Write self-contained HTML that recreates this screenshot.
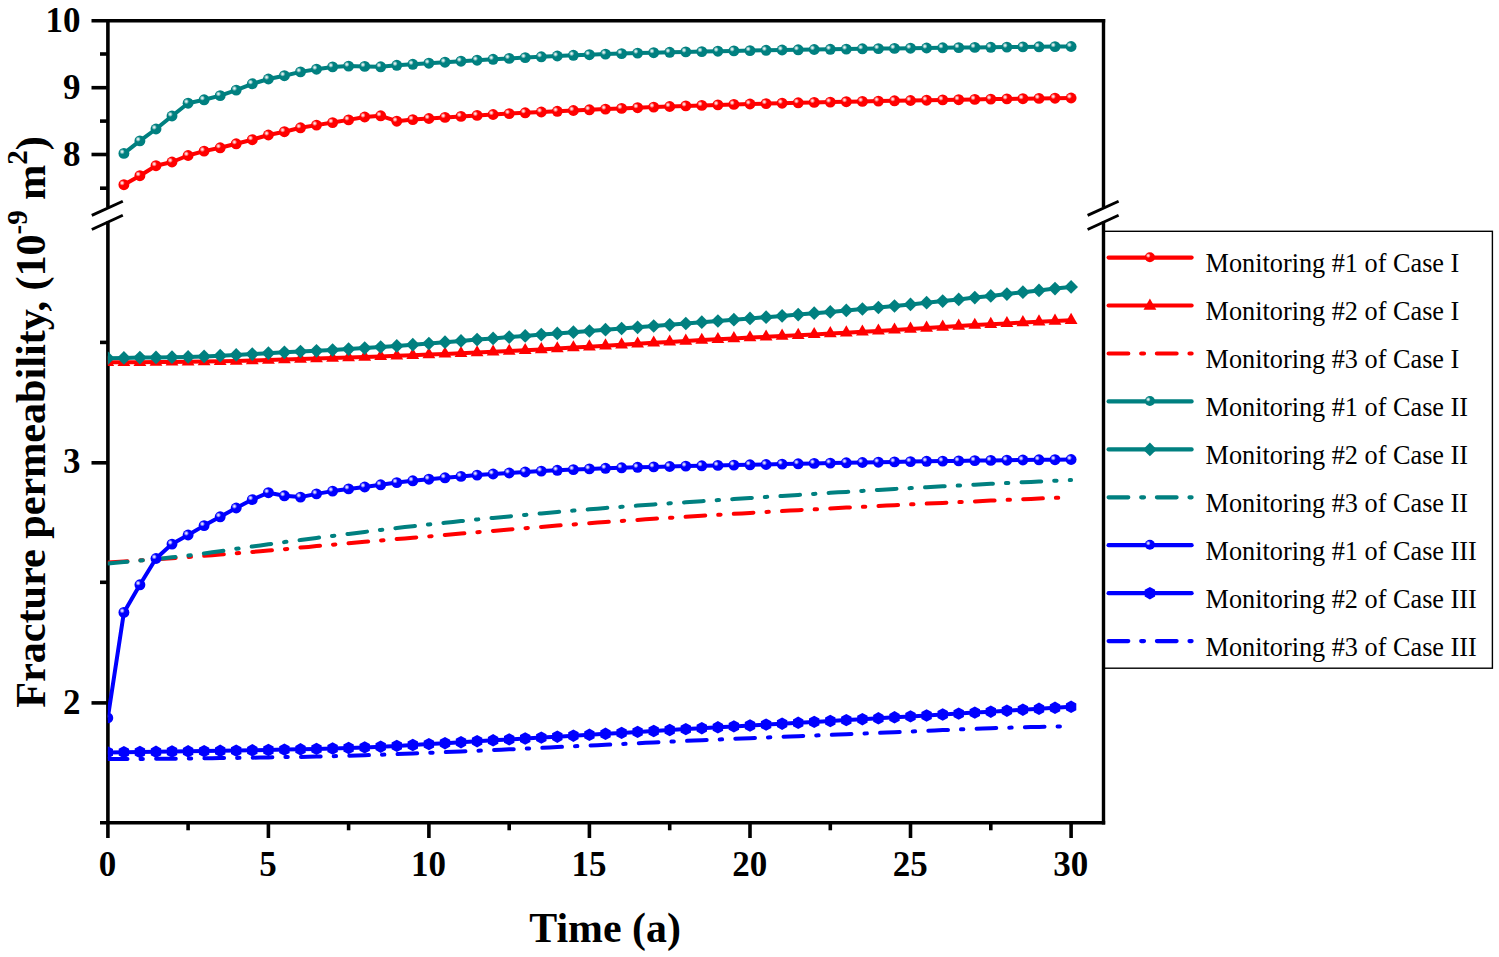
<!DOCTYPE html>
<html><head><meta charset="utf-8"><title>Fracture permeability</title>
<style>html,body{margin:0;padding:0;background:#fff}svg{display:block}text{font-family:"Liberation Serif",serif;fill:#000}.tk{font-size:35px;font-weight:bold}.ax{font-size:42.4px;font-weight:bold}.lg{font-size:26.25px}</style>
</head><body>
<svg width="1499" height="957" viewBox="0 0 1499 957">
<defs>
<radialGradient id="hl" cx="0.5" cy="0.5" r="0.5"><stop offset="0" stop-color="#fff" stop-opacity="0.95"/><stop offset="0.3" stop-color="#fff" stop-opacity="0.8"/><stop offset="1" stop-color="#fff" stop-opacity="0"/></radialGradient>
<g id="ball"><circle r="5.45"/><circle cx="-1.8" cy="-1.7" r="2.7" fill="url(#hl)"/></g>
<path id="dia" d="M0,-6.85 L6.9,0 L0,6.85 L-6.9,0Z"/>
<path id="tri" d="M0,-7.4 L6.4,3.7 L-6.4,3.7Z"/>
<path id="hex" d="M0,-6.2 L5.2,-3.4 L5.2,3.4 L0,6.2 L-5.2,3.4 L-5.2,-3.4Z"/>
<clipPath id="cp"><rect x="107.8" y="19" width="996" height="805"/></clipPath>
</defs>
<rect width="1499" height="957" fill="#fff"/>
<g stroke="#000" stroke-width="3.6" fill="none" stroke-linecap="butt">
<line x1="91.5" y1="20.8" x2="1105.2" y2="20.8"/>
<line x1="100" y1="822.7" x2="1105.2" y2="822.7"/>
<line x1="107.9" y1="19" x2="107.9" y2="207"/>
<line x1="107.9" y1="221.6" x2="107.9" y2="838"/>
<line x1="1103.5" y1="19" x2="1103.5" y2="207.3" stroke-width="3.4"/>
<line x1="1103.5" y1="221.4" x2="1103.5" y2="824.5" stroke-width="3.4"/>
<line x1="91.5" y1="87.7" x2="107" y2="87.7"/>
<line x1="91.5" y1="154.5" x2="107" y2="154.5"/>
<line x1="91.5" y1="462.8" x2="107" y2="462.8"/>
<line x1="91.5" y1="702.9" x2="107" y2="702.9"/>
<line x1="100" y1="54" x2="107" y2="54"/>
<line x1="100" y1="121.1" x2="107" y2="121.1"/>
<line x1="100" y1="188.2" x2="107" y2="188.2"/>
<line x1="100" y1="342.4" x2="107" y2="342.4"/>
<line x1="100" y1="582.3" x2="107" y2="582.3"/>
<line x1="268.4" y1="822" x2="268.4" y2="838"/>
<line x1="428.9" y1="822" x2="428.9" y2="838"/>
<line x1="589.4" y1="822" x2="589.4" y2="838"/>
<line x1="750" y1="822" x2="750" y2="838"/>
<line x1="910.5" y1="822" x2="910.5" y2="838"/>
<line x1="1071.1" y1="822" x2="1071.1" y2="838"/>
<line x1="188.1" y1="822" x2="188.1" y2="830.3"/>
<line x1="348.6" y1="822" x2="348.6" y2="830.3"/>
<line x1="509.2" y1="822" x2="509.2" y2="830.3"/>
<line x1="669.7" y1="822" x2="669.7" y2="830.3"/>
<line x1="830.3" y1="822" x2="830.3" y2="830.3"/>
<line x1="990.8" y1="822" x2="990.8" y2="830.3"/>
</g>
<g stroke="#000" stroke-width="2.9" stroke-linecap="butt">
<line x1="91.8" y1="215.4" x2="122.8" y2="201.2"/>
<line x1="91.8" y1="229.5" x2="122.8" y2="215.3"/>
<line x1="1087.6" y1="215.4" x2="1118.6" y2="201.2"/>
<line x1="1087.6" y1="229.5" x2="1118.6" y2="215.3"/>
</g>
<g clip-path="url(#cp)" fill="none" stroke-linejoin="round" stroke-linecap="round">
<polyline points="123.9,184.7 139.9,175.7 156,165.7 172,162 188.1,155.5 204.1,151.1 220.2,147.8 236.2,143.8 252.3,139.7 268.4,135 284.4,131.7 300.5,127.8 316.5,125.1 332.6,122.6 348.6,119.9 364.7,117 380.7,115.8 396.8,121.2 412.8,119.6 428.9,118.5 445,117.4 461,116.4 477.1,115.4 493.1,114.5 509.2,113.6 525.2,112.8 541.3,112 557.3,111.3 573.4,110.5 589.4,109.8 605.5,109.1 621.6,108.4 637.6,107.7 653.7,107.1 669.7,106.5 685.8,105.9 701.8,105.4 717.9,104.9 733.9,104.4 750,104 766.1,103.6 782.1,103.2 798.2,102.8 814.2,102.4 830.3,102.1 846.3,101.7 862.4,101.4 878.4,101.1 894.5,100.8 910.5,100.5 926.6,100.2 942.7,99.9 958.7,99.7 974.8,99.4 990.8,99.1 1006.9,98.9 1022.9,98.7 1039,98.4 1055,98.2 1071.1,98" stroke="#ff0000" stroke-width="4.0"/>
<g fill="#ff0000" stroke="none">
<use href="#ball" x="123.9" y="184.7"/><use href="#ball" x="139.9" y="175.7"/><use href="#ball" x="156" y="165.7"/><use href="#ball" x="172" y="162"/><use href="#ball" x="188.1" y="155.5"/><use href="#ball" x="204.1" y="151.1"/><use href="#ball" x="220.2" y="147.8"/><use href="#ball" x="236.2" y="143.8"/><use href="#ball" x="252.3" y="139.7"/><use href="#ball" x="268.4" y="135"/><use href="#ball" x="284.4" y="131.7"/><use href="#ball" x="300.5" y="127.8"/><use href="#ball" x="316.5" y="125.1"/><use href="#ball" x="332.6" y="122.6"/><use href="#ball" x="348.6" y="119.9"/><use href="#ball" x="364.7" y="117"/><use href="#ball" x="380.7" y="115.8"/><use href="#ball" x="396.8" y="121.2"/><use href="#ball" x="412.8" y="119.6"/><use href="#ball" x="428.9" y="118.5"/><use href="#ball" x="445" y="117.4"/><use href="#ball" x="461" y="116.4"/><use href="#ball" x="477.1" y="115.4"/><use href="#ball" x="493.1" y="114.5"/><use href="#ball" x="509.2" y="113.6"/><use href="#ball" x="525.2" y="112.8"/><use href="#ball" x="541.3" y="112"/><use href="#ball" x="557.3" y="111.3"/><use href="#ball" x="573.4" y="110.5"/><use href="#ball" x="589.4" y="109.8"/><use href="#ball" x="605.5" y="109.1"/><use href="#ball" x="621.6" y="108.4"/><use href="#ball" x="637.6" y="107.7"/><use href="#ball" x="653.7" y="107.1"/><use href="#ball" x="669.7" y="106.5"/><use href="#ball" x="685.8" y="105.9"/><use href="#ball" x="701.8" y="105.4"/><use href="#ball" x="717.9" y="104.9"/><use href="#ball" x="733.9" y="104.4"/><use href="#ball" x="750" y="104"/><use href="#ball" x="766.1" y="103.6"/><use href="#ball" x="782.1" y="103.2"/><use href="#ball" x="798.2" y="102.8"/><use href="#ball" x="814.2" y="102.4"/><use href="#ball" x="830.3" y="102.1"/><use href="#ball" x="846.3" y="101.7"/><use href="#ball" x="862.4" y="101.4"/><use href="#ball" x="878.4" y="101.1"/><use href="#ball" x="894.5" y="100.8"/><use href="#ball" x="910.5" y="100.5"/><use href="#ball" x="926.6" y="100.2"/><use href="#ball" x="942.7" y="99.9"/><use href="#ball" x="958.7" y="99.7"/><use href="#ball" x="974.8" y="99.4"/><use href="#ball" x="990.8" y="99.1"/><use href="#ball" x="1006.9" y="98.9"/><use href="#ball" x="1022.9" y="98.7"/><use href="#ball" x="1039" y="98.4"/><use href="#ball" x="1055" y="98.2"/><use href="#ball" x="1071.1" y="98"/>
</g>
<polyline points="107.8,362.3 123.9,362.3 139.9,362.2 156,362.1 172,361.9 188.1,361.8 204.1,361.6 220.2,361.3 236.2,361 252.3,360.5 268.4,360.1 284.4,359.6 300.5,359.1 316.5,358.6 332.6,358.1 348.6,357.6 364.7,357 380.7,356.4 396.8,355.8 412.8,355.2 428.9,354.6 445,353.9 461,353.3 477.1,352.6 493.1,351.8 509.2,351.1 525.2,350.3 541.3,349.5 557.3,348.6 573.4,347.6 589.4,346.7 605.5,345.7 621.6,344.7 637.6,343.8 653.7,342.8 669.7,341.9 685.8,341 701.8,340.1 717.9,339.3 733.9,338.5 750,337.6 766.1,336.8 782.1,336 798.2,335.2 814.2,334.4 830.3,333.5 846.3,332.7 862.4,331.8 878.4,330.9 894.5,329.9 910.5,329 926.6,328 942.7,327 958.7,326 974.8,325.1 990.8,324.2 1006.9,323.4 1022.9,322.5 1039,321.7 1055,321 1071.1,320.2" stroke="#ff0000" stroke-width="4.0"/>
<g fill="#ff0000" stroke="none">
<use href="#tri" x="107.8" y="362.3"/><use href="#tri" x="123.9" y="362.3"/><use href="#tri" x="139.9" y="362.2"/><use href="#tri" x="156" y="362.1"/><use href="#tri" x="172" y="361.9"/><use href="#tri" x="188.1" y="361.8"/><use href="#tri" x="204.1" y="361.6"/><use href="#tri" x="220.2" y="361.3"/><use href="#tri" x="236.2" y="361"/><use href="#tri" x="252.3" y="360.5"/><use href="#tri" x="268.4" y="360.1"/><use href="#tri" x="284.4" y="359.6"/><use href="#tri" x="300.5" y="359.1"/><use href="#tri" x="316.5" y="358.6"/><use href="#tri" x="332.6" y="358.1"/><use href="#tri" x="348.6" y="357.6"/><use href="#tri" x="364.7" y="357"/><use href="#tri" x="380.7" y="356.4"/><use href="#tri" x="396.8" y="355.8"/><use href="#tri" x="412.8" y="355.2"/><use href="#tri" x="428.9" y="354.6"/><use href="#tri" x="445" y="353.9"/><use href="#tri" x="461" y="353.3"/><use href="#tri" x="477.1" y="352.6"/><use href="#tri" x="493.1" y="351.8"/><use href="#tri" x="509.2" y="351.1"/><use href="#tri" x="525.2" y="350.3"/><use href="#tri" x="541.3" y="349.5"/><use href="#tri" x="557.3" y="348.6"/><use href="#tri" x="573.4" y="347.6"/><use href="#tri" x="589.4" y="346.7"/><use href="#tri" x="605.5" y="345.7"/><use href="#tri" x="621.6" y="344.7"/><use href="#tri" x="637.6" y="343.8"/><use href="#tri" x="653.7" y="342.8"/><use href="#tri" x="669.7" y="341.9"/><use href="#tri" x="685.8" y="341"/><use href="#tri" x="701.8" y="340.1"/><use href="#tri" x="717.9" y="339.3"/><use href="#tri" x="733.9" y="338.5"/><use href="#tri" x="750" y="337.6"/><use href="#tri" x="766.1" y="336.8"/><use href="#tri" x="782.1" y="336"/><use href="#tri" x="798.2" y="335.2"/><use href="#tri" x="814.2" y="334.4"/><use href="#tri" x="830.3" y="333.5"/><use href="#tri" x="846.3" y="332.7"/><use href="#tri" x="862.4" y="331.8"/><use href="#tri" x="878.4" y="330.9"/><use href="#tri" x="894.5" y="329.9"/><use href="#tri" x="910.5" y="329"/><use href="#tri" x="926.6" y="328"/><use href="#tri" x="942.7" y="327"/><use href="#tri" x="958.7" y="326"/><use href="#tri" x="974.8" y="325.1"/><use href="#tri" x="990.8" y="324.2"/><use href="#tri" x="1006.9" y="323.4"/><use href="#tri" x="1022.9" y="322.5"/><use href="#tri" x="1039" y="321.7"/><use href="#tri" x="1055" y="321"/><use href="#tri" x="1071.1" y="320.2"/>
</g>
<polyline points="107.8,562.5 115.8,562 123.9,561.5 131.9,560.9 139.9,560.4 147.9,559.8 156,559.3 164,558.7 172,558.2 180,557.6 188.1,557 196.1,556.4 204.1,555.8 212.2,555.2 220.2,554.6 228.2,553.9 236.2,553.3 244.3,552.6 252.3,552 260.3,551.3 268.4,550.6 276.4,549.9 284.4,549.2 292.4,548.4 300.5,547.6 308.5,546.9 316.5,546.1 324.5,545.4 332.6,544.7 340.6,543.9 348.6,543.2 356.7,542.5 364.7,541.8 372.7,541.1 380.7,540.5 388.8,539.8 396.8,539.1 404.8,538.4 412.8,537.7 420.9,537 428.9,536.4 436.9,535.7 445,535 453,534.3 461,533.6 469,532.9 477.1,532.2 485.1,531.6 493.1,530.9 501.1,530.2 509.2,529.5 517.2,528.8 525.2,528.2 533.3,527.5 541.3,526.9 549.3,526.2 557.3,525.6 565.4,525 573.4,524.4 581.4,523.8 589.4,523.2 597.5,522.6 605.5,522.1 613.5,521.5 621.6,520.9 629.6,520.4 637.6,519.9 645.6,519.3 653.7,518.8 661.7,518.3 669.7,517.8 677.8,517.3 685.8,516.8 693.8,516.3 701.8,515.8 709.9,515.3 717.9,514.8 725.9,514.3 733.9,513.8 742,513.4 750,512.9 758,512.4 766.1,512 774.1,511.5 782.1,511.1 790.1,510.6 798.2,510.2 806.2,509.7 814.2,509.3 822.2,508.9 830.3,508.5 838.3,508 846.3,507.6 854.4,507.2 862.4,506.8 870.4,506.4 878.4,506 886.5,505.6 894.5,505.2 902.5,504.8 910.5,504.4 918.6,504 926.6,503.6 934.6,503.2 942.7,502.9 950.7,502.5 958.7,502.1 966.7,501.7 974.8,501.4 982.8,501 990.8,500.6 998.9,500.3 1006.9,499.9 1014.9,499.6 1022.9,499.2 1031,498.9 1039,498.5 1047,498.2 1055,497.9 1063.1,497.5 1071.1,497.2" stroke="#ff0000" stroke-width="4.0" stroke-dasharray="19.7 13.0 2.4 13.2"/>
<polyline points="123.9,153.4 139.9,140.9 156,129 172,116 188.1,103.2 204.1,99.8 220.2,95.6 236.2,90.1 252.3,83.8 268.4,79 284.4,75.7 300.5,71.9 316.5,69.2 332.6,66.9 348.6,66.1 364.7,66.4 380.7,66.8 396.8,65.3 412.8,64.3 428.9,63.2 445,62.2 461,61.2 477.1,60.2 493.1,59.3 509.2,58.4 525.2,57.6 541.3,56.8 557.3,56 573.4,55.3 589.4,54.7 605.5,54.1 621.6,53.6 637.6,53.1 653.7,52.7 669.7,52.3 685.8,51.9 701.8,51.6 717.9,51.2 733.9,50.9 750,50.6 766.1,50.3 782.1,50 798.2,49.8 814.2,49.5 830.3,49.3 846.3,49.1 862.4,48.8 878.4,48.6 894.5,48.4 910.5,48.2 926.6,48 942.7,47.8 958.7,47.6 974.8,47.4 990.8,47.3 1006.9,47.1 1022.9,46.9 1039,46.8 1055,46.6 1071.1,46.5" stroke="#008080" stroke-width="4.0"/>
<g fill="#008080" stroke="none">
<use href="#ball" x="123.9" y="153.4"/><use href="#ball" x="139.9" y="140.9"/><use href="#ball" x="156" y="129"/><use href="#ball" x="172" y="116"/><use href="#ball" x="188.1" y="103.2"/><use href="#ball" x="204.1" y="99.8"/><use href="#ball" x="220.2" y="95.6"/><use href="#ball" x="236.2" y="90.1"/><use href="#ball" x="252.3" y="83.8"/><use href="#ball" x="268.4" y="79"/><use href="#ball" x="284.4" y="75.7"/><use href="#ball" x="300.5" y="71.9"/><use href="#ball" x="316.5" y="69.2"/><use href="#ball" x="332.6" y="66.9"/><use href="#ball" x="348.6" y="66.1"/><use href="#ball" x="364.7" y="66.4"/><use href="#ball" x="380.7" y="66.8"/><use href="#ball" x="396.8" y="65.3"/><use href="#ball" x="412.8" y="64.3"/><use href="#ball" x="428.9" y="63.2"/><use href="#ball" x="445" y="62.2"/><use href="#ball" x="461" y="61.2"/><use href="#ball" x="477.1" y="60.2"/><use href="#ball" x="493.1" y="59.3"/><use href="#ball" x="509.2" y="58.4"/><use href="#ball" x="525.2" y="57.6"/><use href="#ball" x="541.3" y="56.8"/><use href="#ball" x="557.3" y="56"/><use href="#ball" x="573.4" y="55.3"/><use href="#ball" x="589.4" y="54.7"/><use href="#ball" x="605.5" y="54.1"/><use href="#ball" x="621.6" y="53.6"/><use href="#ball" x="637.6" y="53.1"/><use href="#ball" x="653.7" y="52.7"/><use href="#ball" x="669.7" y="52.3"/><use href="#ball" x="685.8" y="51.9"/><use href="#ball" x="701.8" y="51.6"/><use href="#ball" x="717.9" y="51.2"/><use href="#ball" x="733.9" y="50.9"/><use href="#ball" x="750" y="50.6"/><use href="#ball" x="766.1" y="50.3"/><use href="#ball" x="782.1" y="50"/><use href="#ball" x="798.2" y="49.8"/><use href="#ball" x="814.2" y="49.5"/><use href="#ball" x="830.3" y="49.3"/><use href="#ball" x="846.3" y="49.1"/><use href="#ball" x="862.4" y="48.8"/><use href="#ball" x="878.4" y="48.6"/><use href="#ball" x="894.5" y="48.4"/><use href="#ball" x="910.5" y="48.2"/><use href="#ball" x="926.6" y="48"/><use href="#ball" x="942.7" y="47.8"/><use href="#ball" x="958.7" y="47.6"/><use href="#ball" x="974.8" y="47.4"/><use href="#ball" x="990.8" y="47.3"/><use href="#ball" x="1006.9" y="47.1"/><use href="#ball" x="1022.9" y="46.9"/><use href="#ball" x="1039" y="46.8"/><use href="#ball" x="1055" y="46.6"/><use href="#ball" x="1071.1" y="46.5"/>
</g>
<polyline points="107.8,358.2 123.9,357.9 139.9,357.6 156,357.4 172,357.2 188.1,356.9 204.1,356.4 220.2,355.7 236.2,354.9 252.3,354.1 268.4,353.2 284.4,352.3 300.5,351.5 316.5,350.8 332.6,350 348.6,349.1 364.7,348.1 380.7,347 396.8,345.9 412.8,344.7 428.9,343.5 445,342.2 461,340.9 477.1,339.6 493.1,338.4 509.2,337.1 525.2,335.9 541.3,334.6 557.3,333.4 573.4,332.2 589.4,331 605.5,329.7 621.6,328.5 637.6,327.3 653.7,326 669.7,324.8 685.8,323.5 701.8,322.2 717.9,321 733.9,319.7 750,318.4 766.1,317.2 782.1,315.9 798.2,314.6 814.2,313.2 830.3,311.9 846.3,310.4 862.4,309 878.4,307.5 894.5,306 910.5,304.4 926.6,302.7 942.7,301.1 958.7,299.4 974.8,297.6 990.8,295.9 1006.9,294.1 1022.9,292.2 1039,290.4 1055,288.6 1071.1,286.9" stroke="#008080" stroke-width="4.0"/>
<g fill="#008080" stroke="none">
<use href="#dia" x="107.8" y="358.2"/><use href="#dia" x="123.9" y="357.9"/><use href="#dia" x="139.9" y="357.6"/><use href="#dia" x="156" y="357.4"/><use href="#dia" x="172" y="357.2"/><use href="#dia" x="188.1" y="356.9"/><use href="#dia" x="204.1" y="356.4"/><use href="#dia" x="220.2" y="355.7"/><use href="#dia" x="236.2" y="354.9"/><use href="#dia" x="252.3" y="354.1"/><use href="#dia" x="268.4" y="353.2"/><use href="#dia" x="284.4" y="352.3"/><use href="#dia" x="300.5" y="351.5"/><use href="#dia" x="316.5" y="350.8"/><use href="#dia" x="332.6" y="350"/><use href="#dia" x="348.6" y="349.1"/><use href="#dia" x="364.7" y="348.1"/><use href="#dia" x="380.7" y="347"/><use href="#dia" x="396.8" y="345.9"/><use href="#dia" x="412.8" y="344.7"/><use href="#dia" x="428.9" y="343.5"/><use href="#dia" x="445" y="342.2"/><use href="#dia" x="461" y="340.9"/><use href="#dia" x="477.1" y="339.6"/><use href="#dia" x="493.1" y="338.4"/><use href="#dia" x="509.2" y="337.1"/><use href="#dia" x="525.2" y="335.9"/><use href="#dia" x="541.3" y="334.6"/><use href="#dia" x="557.3" y="333.4"/><use href="#dia" x="573.4" y="332.2"/><use href="#dia" x="589.4" y="331"/><use href="#dia" x="605.5" y="329.7"/><use href="#dia" x="621.6" y="328.5"/><use href="#dia" x="637.6" y="327.3"/><use href="#dia" x="653.7" y="326"/><use href="#dia" x="669.7" y="324.8"/><use href="#dia" x="685.8" y="323.5"/><use href="#dia" x="701.8" y="322.2"/><use href="#dia" x="717.9" y="321"/><use href="#dia" x="733.9" y="319.7"/><use href="#dia" x="750" y="318.4"/><use href="#dia" x="766.1" y="317.2"/><use href="#dia" x="782.1" y="315.9"/><use href="#dia" x="798.2" y="314.6"/><use href="#dia" x="814.2" y="313.2"/><use href="#dia" x="830.3" y="311.9"/><use href="#dia" x="846.3" y="310.4"/><use href="#dia" x="862.4" y="309"/><use href="#dia" x="878.4" y="307.5"/><use href="#dia" x="894.5" y="306"/><use href="#dia" x="910.5" y="304.4"/><use href="#dia" x="926.6" y="302.7"/><use href="#dia" x="942.7" y="301.1"/><use href="#dia" x="958.7" y="299.4"/><use href="#dia" x="974.8" y="297.6"/><use href="#dia" x="990.8" y="295.9"/><use href="#dia" x="1006.9" y="294.1"/><use href="#dia" x="1022.9" y="292.2"/><use href="#dia" x="1039" y="290.4"/><use href="#dia" x="1055" y="288.6"/><use href="#dia" x="1071.1" y="286.9"/>
</g>
<polyline points="107.8,563.5 115.8,562.8 123.9,562.1 131.9,561.4 139.9,560.6 147.9,559.8 156,559 164,558.2 172,557.3 180,556.4 188.1,555.5 196.1,554.5 204.1,553.4 212.2,552.3 220.2,551.2 228.2,550 236.2,548.8 244.3,547.7 252.3,546.5 260.3,545.4 268.4,544.3 276.4,543.2 284.4,542.1 292.4,541.1 300.5,540 308.5,539 316.5,537.9 324.5,536.9 332.6,535.9 340.6,534.9 348.6,533.9 356.7,532.9 364.7,531.9 372.7,530.9 380.7,529.9 388.8,529 396.8,528 404.8,527.1 412.8,526.2 420.9,525.4 428.9,524.5 436.9,523.6 445,522.8 453,522 461,521.1 469,520.3 477.1,519.5 485.1,518.7 493.1,517.9 501.1,517.2 509.2,516.4 517.2,515.6 525.2,514.9 533.3,514.1 541.3,513.4 549.3,512.7 557.3,512 565.4,511.3 573.4,510.6 581.4,510 589.4,509.3 597.5,508.7 605.5,508 613.5,507.4 621.6,506.8 629.6,506.2 637.6,505.6 645.6,505 653.7,504.5 661.7,503.9 669.7,503.3 677.8,502.8 685.8,502.3 693.8,501.7 701.8,501.2 709.9,500.6 717.9,500.1 725.9,499.6 733.9,499.1 742,498.5 750,498 758,497.5 766.1,496.9 774.1,496.4 782.1,495.9 790.1,495.4 798.2,494.9 806.2,494.4 814.2,493.9 822.2,493.3 830.3,492.8 838.3,492.3 846.3,491.9 854.4,491.4 862.4,490.9 870.4,490.4 878.4,489.9 886.5,489.5 894.5,489 902.5,488.5 910.5,488.1 918.6,487.7 926.6,487.2 934.6,486.8 942.7,486.3 950.7,485.9 958.7,485.5 966.7,485.1 974.8,484.7 982.8,484.2 990.8,483.8 998.9,483.4 1006.9,483 1014.9,482.6 1022.9,482.2 1031,481.9 1039,481.5 1047,481.1 1055,480.7 1063.1,480.4 1071.1,480" stroke="#008080" stroke-width="4.0" stroke-dasharray="19.7 13.0 2.4 13.2"/>
<polyline points="107.8,759 115.8,759 123.9,759 131.9,759 139.9,758.9 147.9,758.9 156,758.8 164,758.8 172,758.7 180,758.6 188.1,758.5 196.1,758.4 204.1,758.3 212.2,758.2 220.2,758.1 228.2,758 236.2,757.9 244.3,757.8 252.3,757.7 260.3,757.5 268.4,757.4 276.4,757.3 284.4,757.1 292.4,757 300.5,756.9 308.5,756.7 316.5,756.6 324.5,756.4 332.6,756.2 340.6,756 348.6,755.7 356.7,755.5 364.7,755.2 372.7,755 380.7,754.7 388.8,754.4 396.8,754.1 404.8,753.8 412.8,753.5 420.9,753.1 428.9,752.8 436.9,752.5 445,752.1 453,751.8 461,751.4 469,751.1 477.1,750.7 485.1,750.4 493.1,750 501.1,749.7 509.2,749.3 517.2,749 525.2,748.6 533.3,748.2 541.3,747.9 549.3,747.5 557.3,747.1 565.4,746.7 573.4,746.3 581.4,745.9 589.4,745.5 597.5,745.2 605.5,744.8 613.5,744.4 621.6,744 629.6,743.6 637.6,743.2 645.6,742.8 653.7,742.4 661.7,742 669.7,741.7 677.8,741.3 685.8,740.9 693.8,740.6 701.8,740.2 709.9,739.9 717.9,739.5 725.9,739.2 733.9,738.8 742,738.5 750,738.2 758,737.8 766.1,737.5 774.1,737.1 782.1,736.8 790.1,736.5 798.2,736.2 806.2,735.8 814.2,735.5 822.2,735.2 830.3,734.9 838.3,734.5 846.3,734.2 854.4,733.9 862.4,733.6 870.4,733.2 878.4,732.9 886.5,732.6 894.5,732.2 902.5,731.9 910.5,731.5 918.6,731.2 926.6,730.8 934.6,730.5 942.7,730.1 950.7,729.8 958.7,729.4 966.7,729.1 974.8,728.8 982.8,728.5 990.8,728.2 998.9,728 1006.9,727.7 1014.9,727.5 1022.9,727.3 1031,727.1 1039,726.9 1047,726.8 1055,726.6 1063.1,726.5 1071.1,726.4" stroke="#0000ff" stroke-width="4.0" stroke-dasharray="19.7 13.0 2.4 13.2"/>
<polyline points="107.8,752.4 123.9,752.2 139.9,752 156,751.8 172,751.5 188.1,751.3 204.1,751.1 220.2,750.8 236.2,750.6 252.3,750.3 268.4,750 284.4,749.6 300.5,749.3 316.5,748.9 332.6,748.5 348.6,748 364.7,747.4 380.7,746.7 396.8,745.9 412.8,745 428.9,744.1 445,743.2 461,742.2 477.1,741.2 493.1,740.3 509.2,739.4 525.2,738.5 541.3,737.6 557.3,736.7 573.4,735.7 589.4,734.8 605.5,733.8 621.6,732.9 637.6,731.9 653.7,731 669.7,730 685.8,729.1 701.8,728.2 717.9,727.3 733.9,726.4 750,725.5 766.1,724.6 782.1,723.7 798.2,722.8 814.2,721.9 830.3,721 846.3,720.1 862.4,719.2 878.4,718.3 894.5,717.3 910.5,716.4 926.6,715.5 942.7,714.5 958.7,713.6 974.8,712.6 990.8,711.7 1006.9,710.7 1022.9,709.7 1039,708.8 1055,707.8 1071.1,706.8" stroke="#0000ff" stroke-width="4.0"/>
<g fill="#0000ff" stroke="none">
<use href="#hex" x="107.8" y="752.4"/><use href="#hex" x="123.9" y="752.2"/><use href="#hex" x="139.9" y="752"/><use href="#hex" x="156" y="751.8"/><use href="#hex" x="172" y="751.5"/><use href="#hex" x="188.1" y="751.3"/><use href="#hex" x="204.1" y="751.1"/><use href="#hex" x="220.2" y="750.8"/><use href="#hex" x="236.2" y="750.6"/><use href="#hex" x="252.3" y="750.3"/><use href="#hex" x="268.4" y="750"/><use href="#hex" x="284.4" y="749.6"/><use href="#hex" x="300.5" y="749.3"/><use href="#hex" x="316.5" y="748.9"/><use href="#hex" x="332.6" y="748.5"/><use href="#hex" x="348.6" y="748"/><use href="#hex" x="364.7" y="747.4"/><use href="#hex" x="380.7" y="746.7"/><use href="#hex" x="396.8" y="745.9"/><use href="#hex" x="412.8" y="745"/><use href="#hex" x="428.9" y="744.1"/><use href="#hex" x="445" y="743.2"/><use href="#hex" x="461" y="742.2"/><use href="#hex" x="477.1" y="741.2"/><use href="#hex" x="493.1" y="740.3"/><use href="#hex" x="509.2" y="739.4"/><use href="#hex" x="525.2" y="738.5"/><use href="#hex" x="541.3" y="737.6"/><use href="#hex" x="557.3" y="736.7"/><use href="#hex" x="573.4" y="735.7"/><use href="#hex" x="589.4" y="734.8"/><use href="#hex" x="605.5" y="733.8"/><use href="#hex" x="621.6" y="732.9"/><use href="#hex" x="637.6" y="731.9"/><use href="#hex" x="653.7" y="731"/><use href="#hex" x="669.7" y="730"/><use href="#hex" x="685.8" y="729.1"/><use href="#hex" x="701.8" y="728.2"/><use href="#hex" x="717.9" y="727.3"/><use href="#hex" x="733.9" y="726.4"/><use href="#hex" x="750" y="725.5"/><use href="#hex" x="766.1" y="724.6"/><use href="#hex" x="782.1" y="723.7"/><use href="#hex" x="798.2" y="722.8"/><use href="#hex" x="814.2" y="721.9"/><use href="#hex" x="830.3" y="721"/><use href="#hex" x="846.3" y="720.1"/><use href="#hex" x="862.4" y="719.2"/><use href="#hex" x="878.4" y="718.3"/><use href="#hex" x="894.5" y="717.3"/><use href="#hex" x="910.5" y="716.4"/><use href="#hex" x="926.6" y="715.5"/><use href="#hex" x="942.7" y="714.5"/><use href="#hex" x="958.7" y="713.6"/><use href="#hex" x="974.8" y="712.6"/><use href="#hex" x="990.8" y="711.7"/><use href="#hex" x="1006.9" y="710.7"/><use href="#hex" x="1022.9" y="709.7"/><use href="#hex" x="1039" y="708.8"/><use href="#hex" x="1055" y="707.8"/><use href="#hex" x="1071.1" y="706.8"/>
</g>
<polyline points="107.8,717.9 123.9,612.4 139.9,584.8 156,558.5 172,544.1 188.1,535 204.1,525.6 220.2,516.8 236.2,508 252.3,499.6 268.4,492.7 284.4,495.8 300.5,497.1 316.5,493.9 332.6,491.1 348.6,488.9 364.7,487 380.7,484.8 396.8,482.6 412.8,480.8 428.9,479.2 445,477.8 461,476.4 477.1,475.1 493.1,474 509.2,473 525.2,472 541.3,471.1 557.3,470.3 573.4,469.6 589.4,468.9 605.5,468.3 621.6,467.8 637.6,467.3 653.7,466.9 669.7,466.5 685.8,466.1 701.8,465.8 717.9,465.4 733.9,465.1 750,464.8 766.1,464.5 782.1,464.1 798.2,463.8 814.2,463.4 830.3,463.1 846.3,462.8 862.4,462.5 878.4,462.2 894.5,461.9 910.5,461.6 926.6,461.3 942.7,461.1 958.7,460.9 974.8,460.6 990.8,460.4 1006.9,460.2 1022.9,460 1039,459.8 1055,459.7 1071.1,459.5" stroke="#0000ff" stroke-width="4.0"/>
<g fill="#0000ff" stroke="none">
<use href="#ball" x="107.8" y="717.9"/><use href="#ball" x="123.9" y="612.4"/><use href="#ball" x="139.9" y="584.8"/><use href="#ball" x="156" y="558.5"/><use href="#ball" x="172" y="544.1"/><use href="#ball" x="188.1" y="535"/><use href="#ball" x="204.1" y="525.6"/><use href="#ball" x="220.2" y="516.8"/><use href="#ball" x="236.2" y="508"/><use href="#ball" x="252.3" y="499.6"/><use href="#ball" x="268.4" y="492.7"/><use href="#ball" x="284.4" y="495.8"/><use href="#ball" x="300.5" y="497.1"/><use href="#ball" x="316.5" y="493.9"/><use href="#ball" x="332.6" y="491.1"/><use href="#ball" x="348.6" y="488.9"/><use href="#ball" x="364.7" y="487"/><use href="#ball" x="380.7" y="484.8"/><use href="#ball" x="396.8" y="482.6"/><use href="#ball" x="412.8" y="480.8"/><use href="#ball" x="428.9" y="479.2"/><use href="#ball" x="445" y="477.8"/><use href="#ball" x="461" y="476.4"/><use href="#ball" x="477.1" y="475.1"/><use href="#ball" x="493.1" y="474"/><use href="#ball" x="509.2" y="473"/><use href="#ball" x="525.2" y="472"/><use href="#ball" x="541.3" y="471.1"/><use href="#ball" x="557.3" y="470.3"/><use href="#ball" x="573.4" y="469.6"/><use href="#ball" x="589.4" y="468.9"/><use href="#ball" x="605.5" y="468.3"/><use href="#ball" x="621.6" y="467.8"/><use href="#ball" x="637.6" y="467.3"/><use href="#ball" x="653.7" y="466.9"/><use href="#ball" x="669.7" y="466.5"/><use href="#ball" x="685.8" y="466.1"/><use href="#ball" x="701.8" y="465.8"/><use href="#ball" x="717.9" y="465.4"/><use href="#ball" x="733.9" y="465.1"/><use href="#ball" x="750" y="464.8"/><use href="#ball" x="766.1" y="464.5"/><use href="#ball" x="782.1" y="464.1"/><use href="#ball" x="798.2" y="463.8"/><use href="#ball" x="814.2" y="463.4"/><use href="#ball" x="830.3" y="463.1"/><use href="#ball" x="846.3" y="462.8"/><use href="#ball" x="862.4" y="462.5"/><use href="#ball" x="878.4" y="462.2"/><use href="#ball" x="894.5" y="461.9"/><use href="#ball" x="910.5" y="461.6"/><use href="#ball" x="926.6" y="461.3"/><use href="#ball" x="942.7" y="461.1"/><use href="#ball" x="958.7" y="460.9"/><use href="#ball" x="974.8" y="460.6"/><use href="#ball" x="990.8" y="460.4"/><use href="#ball" x="1006.9" y="460.2"/><use href="#ball" x="1022.9" y="460"/><use href="#ball" x="1039" y="459.8"/><use href="#ball" x="1055" y="459.7"/><use href="#ball" x="1071.1" y="459.5"/>
</g>
</g>
<text class="tk" x="80.5" y="32" text-anchor="end">10</text>
<text class="tk" x="80.5" y="98.9" text-anchor="end">9</text>
<text class="tk" x="80.5" y="165.7" text-anchor="end">8</text>
<text class="tk" x="80.5" y="473.2" text-anchor="end">3</text>
<text class="tk" x="80.5" y="713.7" text-anchor="end">2</text>
<text class="tk" x="107.5" y="876.4" text-anchor="middle">0</text>
<text class="tk" x="268.1" y="876.4" text-anchor="middle">5</text>
<text class="tk" x="428.6" y="876.4" text-anchor="middle">10</text>
<text class="tk" x="589.1" y="876.4" text-anchor="middle">15</text>
<text class="tk" x="749.7" y="876.4" text-anchor="middle">20</text>
<text class="tk" x="910.2" y="876.4" text-anchor="middle">25</text>
<text class="tk" x="1070.8" y="876.4" text-anchor="middle">30</text>
<text class="ax" style="font-size:41.9px" x="605.1" y="942.2" text-anchor="middle">Time (a)</text>
<text class="ax" letter-spacing="-0.1" transform="translate(45,707.8) rotate(-90)" x="0" y="0">Fracture permeability, (10<tspan font-size="29" dy="-17.6">-9</tspan><tspan dy="17.6"> m</tspan><tspan font-size="29" dy="-17.6">2</tspan><tspan dy="17.6">)</tspan></text>
<rect x="1104" y="231.3" width="388.4" height="436.9" fill="none" stroke="#000" stroke-width="1.4"/>
<line x1="1108.6" y1="257.6" x2="1191.6" y2="257.6" stroke="#ff0000" stroke-width="4.2" stroke-linecap="round"/>
<g transform="translate(1149.9 257.2) scale(0.92)" fill="#ff0000"><use href="#ball"/></g>
<text class="lg" x="1205.6" y="272.1">Monitoring #1 of Case I</text>
<line x1="1108.6" y1="305.5" x2="1191.6" y2="305.5" stroke="#ff0000" stroke-width="4.2" stroke-linecap="round"/>
<g transform="translate(1149.9 306) scale(1.0)" fill="#ff0000"><use href="#tri"/></g>
<text class="lg" x="1205.6" y="320">Monitoring #2 of Case I</text>
<line x1="1108.6" y1="353.5" x2="1191.6" y2="353.5" stroke="#ff0000" stroke-width="4.2" stroke-linecap="round" stroke-dasharray="19.7 12.9 2.8 12.9"/>
<text class="lg" x="1205.6" y="368">Monitoring #3 of Case I</text>
<line x1="1108.6" y1="401.4" x2="1191.6" y2="401.4" stroke="#008080" stroke-width="4.2" stroke-linecap="round"/>
<g transform="translate(1149.9 401) scale(0.92)" fill="#008080"><use href="#ball"/></g>
<text class="lg" x="1205.6" y="415.9">Monitoring #1 of Case II</text>
<line x1="1108.6" y1="449.4" x2="1191.6" y2="449.4" stroke="#008080" stroke-width="4.2" stroke-linecap="round"/>
<g transform="translate(1149.9 449.4) scale(1.0)" fill="#008080"><use href="#dia"/></g>
<text class="lg" x="1205.6" y="463.8">Monitoring #2 of Case II</text>
<line x1="1108.6" y1="497.3" x2="1191.6" y2="497.3" stroke="#008080" stroke-width="4.2" stroke-linecap="round" stroke-dasharray="19.7 12.9 2.8 12.9"/>
<text class="lg" x="1205.6" y="511.8">Monitoring #3 of Case II</text>
<line x1="1108.6" y1="545.2" x2="1191.6" y2="545.2" stroke="#0000ff" stroke-width="4.2" stroke-linecap="round"/>
<g transform="translate(1149.9 544.8) scale(0.92)" fill="#0000ff"><use href="#ball"/></g>
<text class="lg" x="1205.6" y="559.7">Monitoring #1 of Case III</text>
<line x1="1108.6" y1="593.2" x2="1191.6" y2="593.2" stroke="#0000ff" stroke-width="4.2" stroke-linecap="round"/>
<g transform="translate(1149.9 593.2) scale(1.0)" fill="#0000ff"><use href="#hex"/></g>
<text class="lg" x="1205.6" y="607.6">Monitoring #2 of Case III</text>
<line x1="1108.6" y1="641.1" x2="1191.6" y2="641.1" stroke="#0000ff" stroke-width="4.2" stroke-linecap="round" stroke-dasharray="19.7 12.9 2.8 12.9"/>
<text class="lg" x="1205.6" y="655.5">Monitoring #3 of Case III</text>
</svg></body></html>
